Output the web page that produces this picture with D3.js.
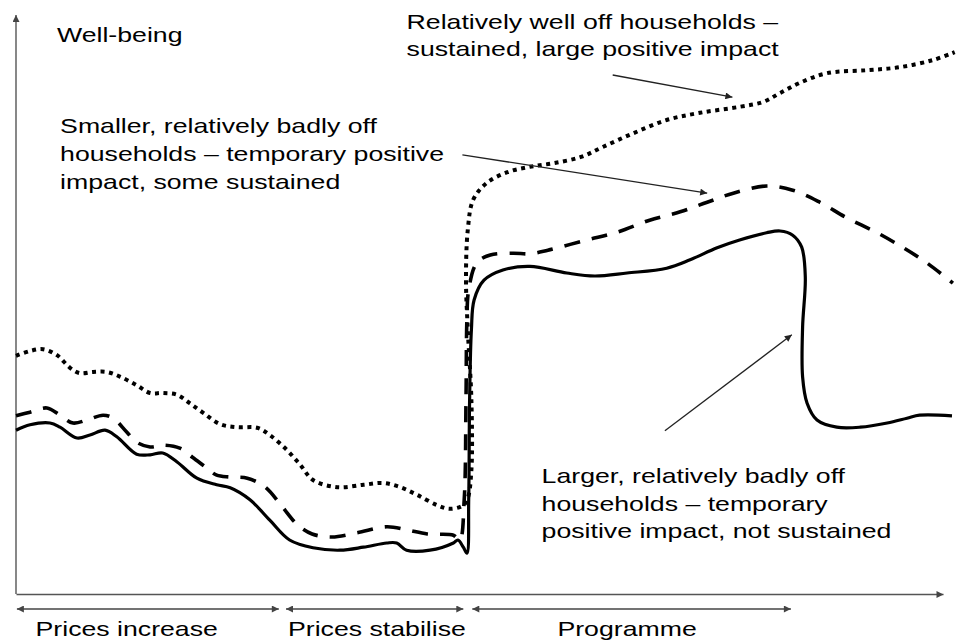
<!DOCTYPE html>
<html>
<head>
<meta charset="utf-8">
<script src="https://cdn.jsdelivr.net/npm/d3@7/dist/d3.min.js"></script>
<style>
  html, body { margin: 0; padding: 0; background: #fff; }
  svg { display: block; }
  text { font-family: "Liberation Sans", Arial, Helvetica, sans-serif; fill: #000; }
</style>
</head>
<body>
<div id="chart"></div>
<script>
// ---------------- DATA (time units, well-being units) ----------------
// Larger, relatively badly off households (solid)
const largerBadlyOff = [
  [0,27.3],[1.56,28.2],[3.78,28.5],[4.89,27.8],[6.78,26.0],[8.22,26.5],[9.89,27.3],
  [11.2,26.2],[13.4,23.3],[14.9,23.2],[16.3,23.5],[17.9,22.0],[20.1,19.3],[22.3,18.2],
  [23.8,17.7],[26.0,15.7],[28.2,12.3],[30.4,9.0],[33.0,7.7],[36.0,7.3],[38.6,7.8],
  [41.2,8.5],[42.3,8.5],[43.4,7.3],[46.0,7.3],[48.6,8.5],[49.1,9.0],[49.7,7.8],[50.1,6.8],
  [50.3,15.7],[50.4,32.3],[50.6,44.0],[50.9,49.0],[52.0,52.3],[54.1,54.0],[57.1,54.6],
  [61.2,53.5],[64.3,53.0],[67.9,53.5],[72.3,54.3],[74.9,55.7],[77.9,57.7],[80.4,59.0],
  [83.4,60.2],[84.9,60.5],[86.3,59.8],[87.3,57.8],[87.7,52.8],[87.4,44.5],[87.4,36.2],
  [87.9,31.8],[89.0,29.0],[91.2,27.8],[93.8,27.8],[96.8,28.5],[99.0,29.3],[100.4,29.8],[104.0,29.7]
];
// Smaller, relatively badly off households (dashed)
const smallerBadlyOff = [
  [0,29.7],[1.56,30.3],[3.44,31.0],[4.89,29.8],[6.33,28.5],[7.89,29.0],[9.67,29.8],
  [10.8,29.3],[12.3,27.0],[13.4,25.3],[14.9,24.5],[16.3,24.8],[18.2,24.3],[19.6,22.8],
  [21.2,21.0],[22.3,19.8],[23.8,19.5],[25.7,19.3],[27.7,17.8],[29.6,14.5],[31.3,11.5],
  [32.9,10.0],[35.1,9.5],[37.9,10.2],[41.2,11.2],[43.4,10.7],[45.7,10.0],[48.6,9.8],[49.3,9.0],
  [49.8,15.7],[50.0,32.3],[50.1,45.7],[50.3,50.7],[51.2,55.2],[52.7,56.5],[55.2,56.8],
  [57.1,56.7],[59.1,57.3],[63.4,59.0],[66.8,60.3],[70.4,62.3],[73.8,63.7],[76.8,65.3],
  [79.7,66.8],[83.4,68.0],[86.3,67.3],[89.3,65.3],[92.3,62.7],[95.7,60.2],[98.6,57.7],
  [101.2,55.2],[104.1,51.8]
];
// Relatively well off households (dotted)
const wellOff = [
  [0,39.7],[1.56,40.5],[3.0,40.8],[4.56,39.8],[6.0,37.7],[7.11,36.8],[8.56,37.0],
  [10.1,37.0],[11.6,36.2],[13.4,34.8],[14.9,33.5],[16.3,33.5],[17.9,33.2],[19.3,31.8],
  [20.8,30.2],[22.7,28.3],[24.6,27.8],[26.8,27.7],[28.2,26.5],[30.1,24.0],[31.6,21.5],
  [33.0,19.0],[35.7,17.8],[38.6,18.2],[40.8,18.5],[42.7,17.8],[44.6,16.5],[46.8,14.8],
  [48.2,14.2],[49.7,14.8],[50.2,16.0],[50.6,20.7],[50.6,32.3],[50.2,44.0],[50.0,52.3],
  [50.2,60.7],[50.8,65.7],[52.3,68.5],[54.6,70.3],[57.1,71.2],[59.7,71.8],[62.7,72.8],
  [65.2,74.5],[68.6,76.8],[72.3,79.0],[76.0,80.2],[80.4,81.2],[83.0,82.0],[84.9,83.5],
  [87.1,85.2],[90.1,86.8],[94.6,87.3],[98.2,87.8],[101.9,89.0],[104.3,90.3]
];
// Phases along the time axis
const phaseNames  = ["Prices increase", "Prices stabilise", "Programme"];
const phaseStarts = [0.1, 30.0, 50.7];
const phaseEnds   = [29.2, 49.7, 86.1];
const phaseLabelAt = [12.3, 40.1, 67.9];
// Annotations
const yAxisLabel = "Well-being";
const annotationLines = [
  ["Relatively well off households –", "sustained, large positive impact"],
  ["Smaller, relatively badly off", "households – temporary positive", "impact, some sustained"],
  ["Larger, relatively badly off", "households – temporary", "positive impact, not sustained"]
];
const annotationAnchor = [[43.4, 94.2], [4.9, 76.8], [58.4, 18.5]]; // left, first baseline
const pointerFrom = [[66.3, 86.5], [49.6, 73.2], [72.1, 27.2]];
const pointerTo   = [[79.6, 82.8], [76.8, 66.8], [86.2, 43.2]];

// ---------------- CHART ----------------
const W = 957, H = 642;
const svg = d3.select("#chart").append("svg").attr("width", W).attr("height", H);

const x = d3.scaleLinear().domain([0, 103]).range([16, 943]);
const y = d3.scaleLinear().domain([0, 96.5]).range([594, 15]);

const defs = svg.append("defs");
function marker(id, color, w, h) {
  defs.append("marker").attr("id", id)
    .attr("viewBox", "0 0 10 10").attr("refX", 10).attr("refY", 5)
    .attr("markerUnits", "userSpaceOnUse")
    .attr("markerWidth", w).attr("markerHeight", h)
    .attr("orient", "auto-start-reverse")
    .append("path").attr("d", "M0,0 L10,5 L0,10 z").attr("fill", color);
}
marker("axArrow", "#444", 9, 7);
marker("ptArrow", "#222", 9, 7);

// Axes (no ticks)
const gx = svg.append("g").attr("transform", `translate(0,${y(0)})`)
  .call(d3.axisBottom(x).tickValues([]).tickSizeOuter(0));
gx.select(".domain").attr("stroke", "#555").attr("stroke-width", 1.4).attr("marker-end", "url(#axArrow)");

const gy = svg.append("g").attr("transform", `translate(${x(0)},0)`)
  .call(d3.axisLeft(y).tickValues([]).tickSizeOuter(0));
gy.select(".domain").attr("stroke", "#555").attr("stroke-width", 1.4)
  .attr("d", `M0,${y(0)}V${y(96.5)}`).attr("marker-end", "url(#axArrow)");

// Series
const line = d3.line().x(d => x(d[0])).y(d => y(d[1])).curve(d3.curveCatmullRom.alpha(0.5));
svg.append("path").datum(wellOff).attr("d", line)
  .attr("fill", "none").attr("stroke", "#000").attr("stroke-width", 4)
  .attr("stroke-dasharray", "4 4.5");
svg.append("path").datum(smallerBadlyOff).attr("d", line)
  .attr("fill", "none").attr("stroke", "#000").attr("stroke-width", 3.6)
  .attr("stroke-dasharray", "16 12");
svg.append("path").datum(largerBadlyOff).attr("d", line)
  .attr("fill", "none").attr("stroke", "#000").attr("stroke-width", 3.2)
  .attr("stroke-linejoin", "round");

// Phase arrows
const phaseY = y(0) + 15;
phaseNames.forEach((name, i) => {
  svg.append("line")
    .attr("x1", x(phaseStarts[i])).attr("x2", x(phaseEnds[i]))
    .attr("y1", phaseY).attr("y2", phaseY)
    .attr("stroke", "#444").attr("stroke-width", 1.4)
    .attr("marker-start", "url(#axArrow)").attr("marker-end", "url(#axArrow)");
  svg.append("g").attr("transform", `translate(${x(phaseLabelAt[i])},${y(0) + 42}) scale(1.27,1)`)
    .append("text").attr("text-anchor", "middle").attr("font-size", 21).text(name);
});

// Y label
svg.append("g").attr("transform", `translate(57,42) scale(1.27,1)`)
  .append("text").attr("font-size", 21).text(yAxisLabel);

// Annotation texts
annotationLines.forEach((lines, i) => {
  const g = svg.append("g")
    .attr("transform", `translate(${x(annotationAnchor[i][0])},${y(annotationAnchor[i][1])}) scale(1.27,1)`);
  const t = g.append("text").attr("font-size", 21);
  lines.forEach((l, j) => t.append("tspan").attr("x", 0).attr("y", j * 27.7).text(l));
});

// Pointer arrows
pointerFrom.forEach((p, i) => {
  svg.append("line")
    .attr("x1", x(p[0])).attr("y1", y(p[1]))
    .attr("x2", x(pointerTo[i][0])).attr("y2", y(pointerTo[i][1]))
    .attr("stroke", "#222").attr("stroke-width", 1.3)
    .attr("marker-end", "url(#ptArrow)");
});
</script>
</body>
</html>
